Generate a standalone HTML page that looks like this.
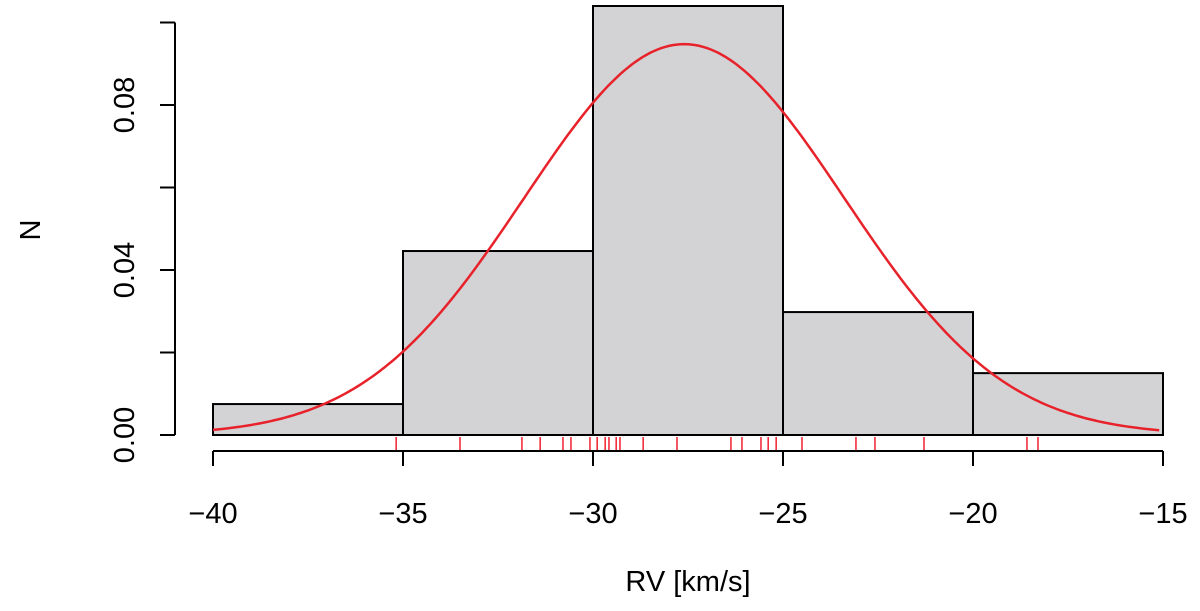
<!DOCTYPE html>
<html><head><meta charset="utf-8"><style>body{margin:0;background:#fff}svg{display:block;font-family:"Liberation Sans",sans-serif}</style></head>
<body>
<svg id="c" width="1200" height="611"></svg>
<script>
const binEdges=[-40,-35,-30,-25,-20,-15];
const densities=[0.0075,0.0446,0.104,0.0298,0.015];
const rugValues=[-35.18,-33.5,-31.87,-31.39,-30.79,-30.58,-30.08,-29.89,-29.68,-29.58,-29.39,-29.29,-28.68,-27.79,-26.37,-26.08,-25.58,-25.39,-25.18,-24.5,-23.08,-22.58,-21.29,-18.58,-18.29];
const xTicks=[-40,-35,-30,-25,-20,-15];
const yTicks=[0,0.02,0.04,0.06,0.08];
const yTickLabels=["0.00","","0.04","","0.08"];
const fitMean=-27.6, fitSd=4.21;
const NS="http://www.w3.org/2000/svg";
const svg=document.getElementById('c');
const X=v=>213+(v+40)*38;
const Y=v=>435-v*4125;
function mk(t,a,p){const e=document.createElementNS(NS,t);for(const k in a)e.setAttribute(k,a[k]);(p||svg).appendChild(e);return e;}
densities.forEach((d,i)=>{
 const r=mk('rect',{x:X(binEdges[i]),y:Y(d),width:X(binEdges[i+1])-X(binEdges[i]),height:Y(0)-Y(d),fill:'#d3d3d6',stroke:'#000','stroke-width':2});
 
 
});
let pts=[];
for(let v=-40;v<=-15.001+0.0001;v+=0.1){const d=Math.exp(-0.5*((v-fitMean)/fitSd)**2)/(fitSd*Math.sqrt(2*Math.PI));pts.push(X(v).toFixed(1)+','+Y(d).toFixed(1));}
const c=mk('polyline',{points:pts.join(' '),fill:'none',stroke:'#e8222a','stroke-width':2.5});


rugValues.forEach(v=>{
 const l=mk('line',{x1:X(v),x2:X(v),y1:437,y2:450,stroke:'#f02030','stroke-width':1.5});
 
 
});
const ya=mk('g',{});


mk('line',{x1:175,x2:175,y1:Y(0),y2:Y(0.1),stroke:'#000','stroke-width':2},ya);
yTicks.forEach((t,i)=>{
 mk('line',{x1:160,x2:175,y1:Y(t),y2:Y(t),stroke:'#000','stroke-width':2},ya);
 if(yTickLabels[i]){const tx=mk('text',{x:134,y:Y(t),'font-size':29,'text-anchor':'middle',transform:`rotate(-90 134 ${Y(t)})`},ya);tx.textContent=yTickLabels[i];}
});
mk('line',{x1:160,x2:175,y1:Y(0.1),y2:Y(0.1),stroke:'#000','stroke-width':2},ya);
const xa=mk('g',{});


mk('line',{x1:X(-40),x2:X(-15),y1:451,y2:451,stroke:'#000','stroke-width':2},xa);
xTicks.forEach(t=>{
 mk('line',{x1:X(t),x2:X(t),y1:451,y2:466,stroke:'#000','stroke-width':2},xa);
 const tx=mk('text',{x:X(t),y:523,'font-size':29,'text-anchor':'middle'},xa);tx.textContent='\u2212'+Math.abs(t);
});
const xt=mk('text',{x:688,y:591,'font-size':29,'text-anchor':'middle'});xt.textContent='RV [km/s]';


const yt=mk('text',{x:40,y:230,'font-size':29,'text-anchor':'middle',transform:'rotate(-90 40 230)'});yt.textContent='N';


</script>
</body></html>
